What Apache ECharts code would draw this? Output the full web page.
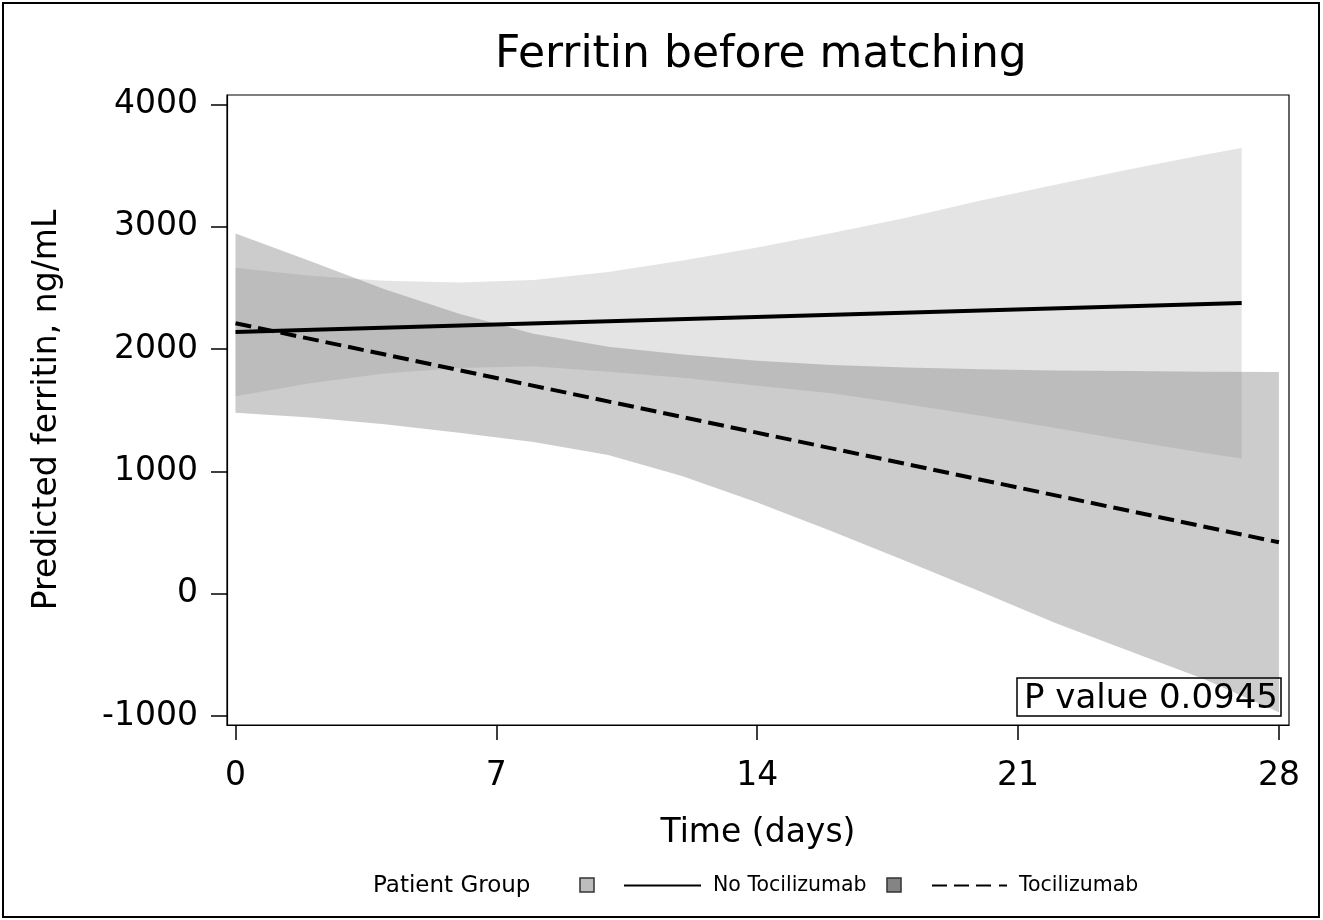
<!DOCTYPE html>
<html>
<head>
<meta charset="utf-8">
<script src="https://cdn.jsdelivr.net/npm/echarts@6/dist/echarts.min.js"></script>
<style>
html,body{margin:0;padding:0;background:#fff;}
#chart{width:1323px;height:920px;}
</style>
</head>
<body>
<div id="chart"></div>
<script>
// ---- data ----
var titleText = 'Ferritin before matching';
var xTicks = [0, 7, 14, 21, 28];
var yTicks = [-1000, 0, 1000, 2000, 3000, 4000];

// No Tocilizumab: fitted line and 95% band (days 0-27)
var ntLineDays = [0, 27];
var ntLineVals = [2140, 2378];
var ntBandDays = [0, 2, 4, 6, 8, 10, 12, 14, 16, 18, 20, 22, 24, 26, 27];
var ntUpper = [2665, 2600, 2560, 2545, 2565, 2630, 2725, 2830, 2950, 3075, 3215, 3345, 3470, 3590, 3645];
var ntLower = [1615, 1720, 1800, 1845, 1860, 1815, 1765, 1700, 1640, 1550, 1455, 1355, 1250, 1150, 1105];

// Tocilizumab: fitted line and 95% band (days 0-28)
var tLineDays = [0, 28];
var tLineVals = [2212, 420];
var tBandDays = [0, 2, 4, 6, 8, 10, 12, 14, 16, 18, 20, 22, 24, 26, 28];
var tUpper = [2945, 2720, 2490, 2290, 2125, 2020, 1955, 1905, 1870, 1850, 1835, 1825, 1820, 1815, 1812];
var tLower = [1480, 1440, 1385, 1315, 1240, 1135, 960, 745, 510, 265, 15, -240, -470, -700, -970];

var pValueText = 'P value 0.0945';
var legendTitle = 'Patient Group';

// ---- helpers ----
function pairs(xs, ys) { return xs.map(function (x, i) { return [x, ys[i]]; }); }

// band polygon drawn through the chart's own coordinate system
function bandRenderer(days, lo, hi, fill) {
  return function (params, api) {
    if (params.dataIndex !== 0) return null;
    var pts = [];
    for (var i = 0; i < days.length; i++) pts.push(api.coord([days[i], hi[i]]));
    for (var j = days.length - 1; j >= 0; j--) pts.push(api.coord([days[j], lo[j]]));
    return {
      type: 'polygon',
      shape: { points: pts },
      style: { fill: fill, stroke: null }
    };
  };
}

var FONT = 'DejaVu Sans';
var chart = echarts.init(document.getElementById('chart'), null, { renderer: 'canvas' });

var option = {
  animation: false,
  backgroundColor: '#fff',
  title: {
    text: titleText,
    left: 490,
    top: 29,
    textStyle: { fontFamily: FONT, fontSize: 44, fontWeight: 'normal', color: '#000' }
  },
  grid: {
    left: 227, top: 95, width: 1062, height: 630,
    show: true, borderColor: '#000', borderWidth: 1.2, backgroundColor: 'transparent'
  },
  xAxis: {
    type: 'value', min: -0.228, max: 28.27,
    name: 'Time (days)', nameLocation: 'middle', nameGap: 92,
    nameTextStyle: { fontFamily: FONT, fontSize: 33, color: '#000' },
    axisLine: { show: true, onZero: false, lineStyle: { color: '#000', width: 1.2 } },
    axisTick: { show: true, length: 15, customValues: xTicks, lineStyle: { color: '#000', width: 1.5 } },
    axisLabel: { customValues: xTicks, fontFamily: FONT, fontSize: 33, color: '#000', margin: 35,
      formatter: function (v) { return String(v); } },
    splitLine: { show: false }
  },
  yAxis: {
    type: 'value', min: -1074, max: 4078,
    name: 'Predicted ferritin, ng/mL', nameLocation: 'middle', nameGap: 163, nameRotate: 90,
    nameTextStyle: { fontFamily: FONT, fontSize: 33, color: '#000' },
    axisLine: { show: true, onZero: false, lineStyle: { color: '#000', width: 1.2 } },
    axisTick: { show: true, length: 16, customValues: yTicks, lineStyle: { color: '#000', width: 1.5 } },
    axisLabel: { customValues: yTicks, fontFamily: FONT, fontSize: 33, color: '#000', margin: 29,
      formatter: function (v) { return String(v); } },
    splitLine: { show: false }
  },
  legend: [
    {
      data: [{ name: 'No Tocilizumab', icon: 'rect' }],
      left: 624, top: 875, padding: 0, itemWidth: 77, itemHeight: 2,
      selectedMode: false,
      itemStyle: { color: '#000', borderWidth: 0 },
      textStyle: { fontFamily: FONT, fontSize: 20.5, color: '#000', padding: [0, 0, 0, 7] }
    },
    {
      data: [{ name: 'Tocilizumab', icon: 'path://M0,0H15V2H0Z M22,0H37V2H22Z M44,0H59V2H44Z M67,0H75V2H67Z' }],
      left: 932, top: 875, padding: 0, itemWidth: 75, itemHeight: 2,
      selectedMode: false,
      itemStyle: { color: '#000', borderWidth: 0 },
      textStyle: { fontFamily: FONT, fontSize: 20.5, color: '#000', padding: [0, 0, 0, 7] }
    }
  ],
  graphic: [
    { type: 'rect', silent: true, shape: { x: 3, y: 3, width: 1316, height: 914 },
      style: { fill: 'none', stroke: '#000', lineWidth: 2 } },
    { type: 'text', left: 373, top: 875,
      style: { text: legendTitle, font: '23px "DejaVu Sans"', fill: '#000' } },
    { type: 'rect', shape: { x: 580, y: 878, width: 14, height: 14 },
      style: { fill: '#bdbdbd', stroke: '#333', lineWidth: 1.5 } },
    { type: 'rect', shape: { x: 887, y: 878, width: 14, height: 14 },
      style: { fill: '#848484', stroke: '#333', lineWidth: 1.5 } },
    { type: 'rect', z: 10, shape: { x: 1017, y: 678, width: 264, height: 38 },
      style: { fill: 'none', stroke: '#000', lineWidth: 1.5 } },
    { type: 'text', z: 10, left: 1024, top: 682,
      style: { text: pValueText, font: '34px "DejaVu Sans"', fill: '#000' } }
  ],
  series: [
    { name: 'No Tocilizumab 95% CI', type: 'custom', z: 1, silent: true, clip: true,
      data: pairs(ntBandDays, ntUpper), encode: { x: 0, y: 1 },
      renderItem: bandRenderer(ntBandDays, ntLower, ntUpper, 'rgba(189,189,189,0.41)') },
    { name: 'Tocilizumab 95% CI', type: 'custom', z: 2, silent: true, clip: true,
      data: pairs(tBandDays, tUpper), encode: { x: 0, y: 1 },
      renderItem: bandRenderer(tBandDays, tLower, tUpper, 'rgba(132,132,132,0.41)') },
    { name: 'No Tocilizumab', type: 'line', data: pairs(ntLineDays, ntLineVals),
      symbol: 'none', color: '#000', lineStyle: { color: '#000', width: 4 }, z: 5 },
    { name: 'Tocilizumab', type: 'line', data: pairs(tLineDays, tLineVals),
      symbol: 'none', color: '#000', lineStyle: { color: '#000', width: 4, type: [16, 7] }, z: 5 }
  ]
};
chart.setOption(option);
</script>
</body>
</html>
